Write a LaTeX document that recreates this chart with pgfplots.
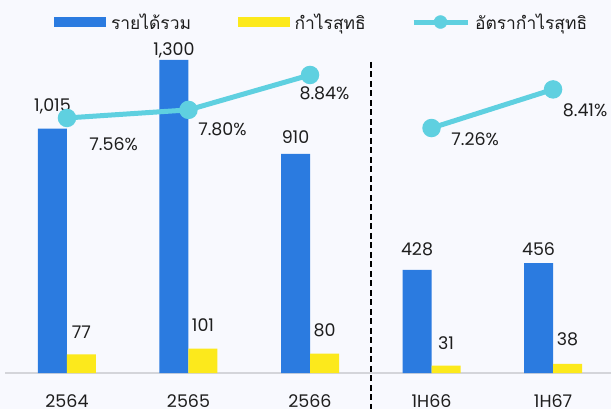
\documentclass[border=0pt]{standalone}
\usepackage{pgfplots}
\pgfplotsset{compat=1.18}
\usepackage{pgfplotstable}
\usepackage{fontspec}
\setmainfont{Poppins}
\newfontfamily\thaifont[Script=Thai]{Loma}
\definecolor{revblue}{HTML}{2B7BE0}
\definecolor{profyel}{HTML}{FCE91C}
\definecolor{margcyan}{HTML}{5FD0E0}
\definecolor{bgc}{HTML}{F8F9FE}
\definecolor{axgray}{HTML}{D4D5DA}
\definecolor{txt}{HTML}{1E1E1E}

\pgfplotstableread{
x rev dr prof dp
0 1015 17 77 16
1 1300 4 101 17
2 910 10 80 17
3 428 14 31 16
4 456 8 38 18
}\bardata
\pgfplotstableread{
x m dx dy
0 7.56 20 32.4
1 7.80 7.3 25.5
2 8.84 -13 25
}\margA
\pgfplotstableread{
x m dx dy
3 7.26 17.3 17.7
4 8.41 7.3 27.3
}\margB

\begin{document}
\begin{tikzpicture}[font=\fontsize{17.5}{21}\selectfont]
\fill[bgc] (0,0) rectangle (611bp,409bp);
\useasboundingbox (0,0) rectangle (611bp,409bp);
\pgfplotsset{
  common/.style={
    scale only axis, width=606bp, height=333bp,
    at={(5bp,36bp)}, anchor=south west,
    xmin=-0.51, xmax=4.477,
    clip=false,
    /pgf/number format/assume math mode=true,
  }
}
\begin{axis}[common,
  ymin=0, ymax=1383,
  axis x line*=bottom, axis y line=none,
  x axis line style={axgray, line width=2bp, -},
  ytick=\empty,
  xtick={0,1,2,3,4},
  xticklabels={2564,2565,2566,1H66,1H67},
  major tick length=0pt,
  xticklabel style={anchor=north, inner sep=0pt, yshift=-21bp, text=txt},
  legend columns=3,
  legend style={at={(axis description cs:0.0809,1.054)}, anchor=west,
    draw=none, fill=none, inner sep=0pt, outer sep=0pt,
    nodes={inner sep=0pt, text=txt},
    /tikz/every odd column/.append style={column sep=5bp},
    /tikz/every even column/.append style={column sep=45.5bp}},
]
\addplot[ybar, bar width=29bp, bar shift=-14.5bp, fill=revblue, draw=none,
  legend image code/.code={\fill[revblue] (0bp,-5.3bp) rectangle (52bp,5.3bp);},
  point meta=y,
  nodes near coords={\pgfmathprintnumber[1000 sep={,}]{\pgfplotspointmeta}},
  visualization depends on={\thisrow{dr} \as \dshift},
  every node near coord/.append style={anchor=base, xshift=-14.5bp, yshift=\dshift bp, inner sep=0pt, text=txt},
] table[x=x, y=rev]{\bardata};
\addlegendentry{\makebox[81bp][l]{\thaifont รายได้รวม}}
\addplot[ybar, bar width=29bp, bar shift=14.5bp, fill=profyel, draw=none,
  legend image code/.code={\fill[profyel] (0bp,-5.3bp) rectangle (52bp,5.3bp);},
  point meta=y,
  nodes near coords={\pgfmathprintnumber{\pgfplotspointmeta}},
  visualization depends on={\thisrow{dp} \as \dshift},
  every node near coord/.append style={anchor=base, xshift=14.5bp, yshift=\dshift bp, inner sep=0pt, text=txt},
] table[x=x, y=prof]{\bardata};
\addlegendentry{\makebox[71bp][l]{\thaifont กำไรสุทธิ}}
\addlegendimage{legend image code/.code={\draw[margcyan,line width=5bp] (0bp,0bp)--(54bp,0bp); \fill[margcyan] (27bp,0bp) circle (6.5bp);}}
\addlegendentry{\makebox[115bp][l]{\thaifont อัตรากำไรสุทธิ}}
\draw[black, line width=2bp, dash pattern=on 6bp off 3.5bp] (axis cs:2.5,1292) -- (axis cs:2.5,-160);
\end{axis}
\begin{axis}[common, ymin=-0.033, ymax=9.881, hide axis]
\pgfplotsset{
  margstyle/.style={margcyan, line width=5bp, mark=*, mark size=6.7bp,
    mark options={fill=margcyan, draw=none},
    point meta=y,
    nodes near coords={\pgfmathprintnumber[fixed, fixed zerofill, precision=2]{\pgfplotspointmeta}\%},
    visualization depends on={\thisrow{dx} \as \dxs},
    visualization depends on={\thisrow{dy} \as \dys},
    every node near coord/.append style={anchor=base west, xshift=\dxs bp, yshift=-\dys bp, inner sep=0pt, text=txt},
  }
}
\addplot[margstyle] table[x=x, y=m]{\margA};
\addplot[margstyle] table[x=x, y=m]{\margB};
\end{axis}
\end{tikzpicture}
\end{document}
